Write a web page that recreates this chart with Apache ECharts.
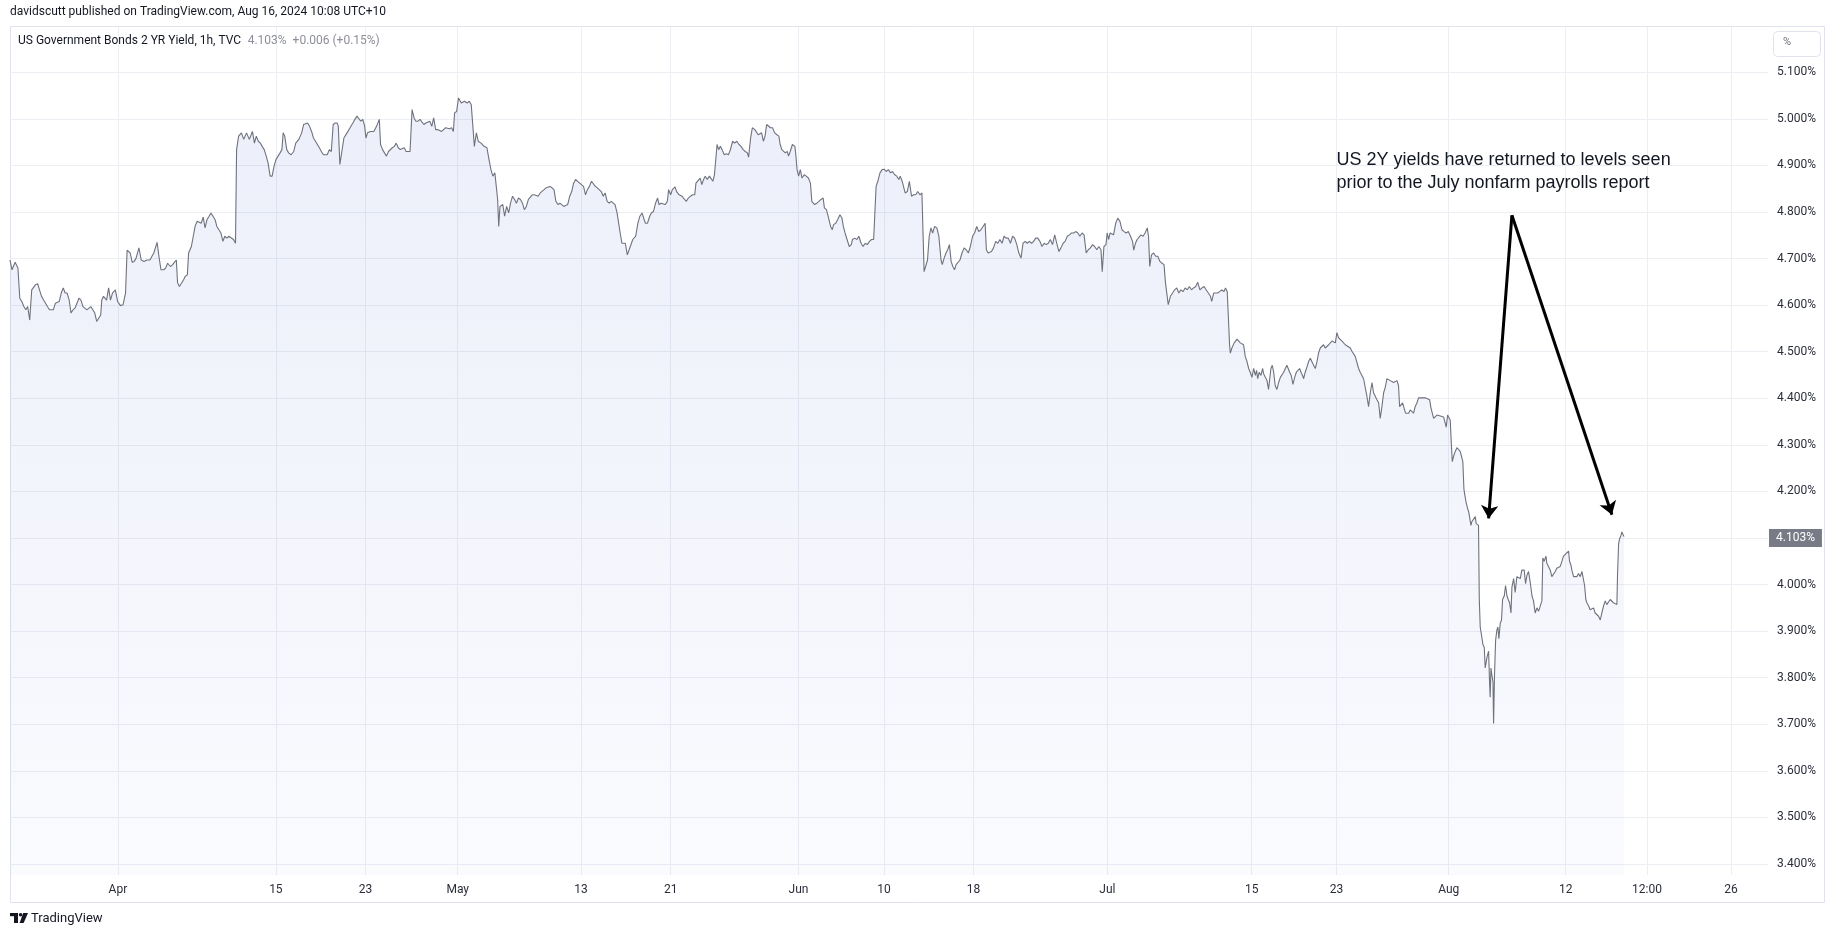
<!DOCTYPE html>
<html>
<head>
<meta charset="utf-8">
<script src="https://cdn.jsdelivr.net/npm/echarts@6/dist/echarts.min.js"></script>
<style>
html,body{margin:0;padding:0;background:#ffffff;}
#chart{width:1835px;height:939px;}
</style>
</head>
<body>
<div id="chart"></div>
<script>
// x = trading-day position (weekends skipped, as on the TradingView time scale), y = yield in %
const yieldPoints = [
[0,4.697],[0.13,4.676],[0.33,4.692],[0.51,4.680],[0.63,4.615],[0.76,4.608],[0.89,4.597],[1.02,4.590],[1.14,4.597],[1.27,4.568],[1.35,4.566],[1.40,4.633],[1.65,4.644],[1.78,4.646],[1.90,4.633],[2.03,4.619],[2.16,4.611],[2.29,4.604],[2.41,4.597],[2.54,4.590],[2.66,4.594],[2.79,4.590],[2.92,4.604],[3.17,4.608],[3.30,4.626],[3.43,4.637],[3.55,4.626],[3.68,4.626],[3.81,4.611],[3.93,4.583],[4.06,4.590],[4.19,4.594],[4.31,4.597],[4.44,4.615],[4.57,4.611],[4.70,4.597],[4.82,4.594],[4.95,4.590],[5.20,4.597],[5.46,4.583],[5.58,4.565],[5.71,4.572],[5.84,4.579],[5.91,4.611],[6.02,4.619],[6.22,4.611],[6.35,4.637],[6.47,4.611],[6.60,4.626],[6.78,4.633],[6.93,4.608],[7.11,4.599],[7.28,4.601],[7.44,4.626],[7.54,4.718],[7.74,4.712],[7.87,4.692],[8.00,4.694],[8.12,4.701],[8.30,4.723],[8.45,4.697],[8.63,4.694],[8.81,4.697],[9.01,4.697],[9.14,4.705],[9.26,4.712],[9.47,4.735],[9.59,4.705],[9.72,4.676],[9.90,4.676],[10.03,4.680],[10.15,4.690],[10.33,4.683],[10.48,4.687],[10.58,4.692],[10.71,4.697],[10.79,4.648],[10.91,4.640],[11.04,4.647],[11.17,4.654],[11.29,4.662],[11.42,4.665],[11.50,4.712],[11.68,4.726],[11.80,4.748],[11.93,4.771],[12.06,4.780],[12.18,4.784],[12.31,4.776],[12.44,4.789],[12.56,4.766],[12.69,4.784],[12.82,4.791],[12.94,4.798],[13.07,4.791],[13.20,4.784],[13.32,4.769],[13.45,4.762],[13.58,4.755],[13.71,4.737],[13.83,4.748],[13.96,4.744],[14.09,4.748],[14.39,4.741],[14.52,4.733],
[14.59,4.934],[14.72,4.963],[14.90,4.970],[15.05,4.956],[15.23,4.970],[15.41,4.956],[15.61,4.973],[15.74,4.948],[15.86,4.963],[15.99,4.952],[16.12,4.948],[16.24,4.941],[16.37,4.934],[16.50,4.920],[16.62,4.905],[16.75,4.877],[16.88,4.877],[17.00,4.898],[17.13,4.913],[17.26,4.920],[17.39,4.927],[17.51,4.934],[17.59,4.970],[17.69,4.963],[17.82,4.934],[17.94,4.927],[18.10,4.923],[18.27,4.930],[18.40,4.948],[18.60,4.956],[18.78,4.970],[18.91,4.988],[19.03,4.984],[19.16,4.991],[19.29,4.984],[19.42,4.973],[19.54,4.959],[19.67,4.952],[19.92,4.938],[20.05,4.930],[20.18,4.923],[20.30,4.920],[20.43,4.923],[20.56,4.934],[20.69,4.930],[20.81,4.988],[20.94,4.991],[21.07,4.991],[21.14,4.984],[21.24,4.902],[21.37,4.930],[21.50,4.959],[21.60,4.956],[21.70,4.970],[21.83,4.977],[21.95,4.984],[22.08,4.991],[22.21,4.999],[22.34,5.006],[22.46,5.002],[22.59,4.995],[22.72,4.999],[22.84,4.984],[22.92,4.959],[23.02,4.970],[23.22,4.973],[23.43,4.973],[23.60,4.984],[23.78,4.999],[23.86,4.945],[23.99,4.934],[24.11,4.938],[24.24,4.920],[24.37,4.930],[24.49,4.934],[24.62,4.938],[24.75,4.941],[24.87,4.948],[25.00,4.938],[25.13,4.934],[25.25,4.930],[25.38,4.938],[25.51,4.930],[25.63,4.927],[25.76,4.930],[25.89,5.020],[26.02,5.002],[26.14,4.995],[26.27,4.995],[26.40,4.999],[26.52,4.995],[26.65,4.988],[26.78,4.991],[26.90,4.988],[27.03,4.995],[27.16,4.984],[27.28,5.002],[27.41,4.977],[27.54,4.977],[27.66,4.981],[27.79,4.973],[27.92,4.977],[28.05,4.981],[28.17,4.977],[28.30,4.979],[28.43,4.981],[28.55,4.973],[28.63,5.013],[28.76,5.016],[28.88,5.045],[29.06,5.034],[29.26,5.038],[29.44,5.034],[29.57,5.038],[29.70,5.031],[29.82,5.027],[29.90,4.941],[30.03,4.970],[30.15,4.952],[30.33,4.948],[30.53,4.941],[30.71,4.938],[30.84,4.913],[30.97,4.891],[31.09,4.877],[31.22,4.884],[31.29,4.887],[31.40,4.827],[31.47,4.769],[31.55,4.812],[31.73,4.816],[31.85,4.791],[31.98,4.812],[32.11,4.798],[32.23,4.819],[32.36,4.834],[32.49,4.827],[32.61,4.819],[32.74,4.830],[32.87,4.827],[33.00,4.819],[33.12,4.805],[33.25,4.812],[33.38,4.827],[33.50,4.830],[33.63,4.837],[33.76,4.837],[33.88,4.841],[34.01,4.834],[34.14,4.841],[34.26,4.844],[34.39,4.848],[34.52,4.852],[34.77,4.855],[34.90,4.852],[35.03,4.848],[35.15,4.823],[35.28,4.816],[35.41,4.819],[35.53,4.816],[35.66,4.812],[35.91,4.816],[36.04,4.834],[36.17,4.844],[36.29,4.862],[36.42,4.870],[36.55,4.866],[36.68,4.862],[36.93,4.855],[37.06,4.837],[37.18,4.848],[37.31,4.855],[37.44,4.866],[37.56,4.870],[37.69,4.855],[37.82,4.852],[37.94,4.855],[38.07,4.844],[38.20,4.834],[38.32,4.841],[38.45,4.823],[38.58,4.819],[38.71,4.823],[38.83,4.819],[38.96,4.816],[39.09,4.798],
[39.21,4.798],[39.29,4.755],[39.40,4.733],[39.62,4.733],[39.75,4.708],[39.94,4.726],[40.10,4.741],[40.29,4.748],[40.43,4.776],[40.56,4.791],[40.70,4.798],[40.83,4.784],[40.92,4.776],[41.05,4.776],[41.19,4.791],[41.30,4.798],[41.43,4.801],[41.57,4.819],[41.70,4.830],[41.79,4.816],[41.92,4.819],[42.19,4.816],[42.33,4.823],[42.41,4.848],[42.54,4.837],[42.65,4.848],[42.82,4.854],[42.92,4.844],[43.09,4.837],[43.27,4.834],[43.41,4.828],[43.55,4.823],[43.68,4.830],[43.82,4.834],[43.95,4.837],[44.09,4.837],[44.17,4.862],[44.28,4.866],[44.44,4.873],[44.55,4.859],[44.66,4.870],[44.77,4.877],[44.90,4.870],[45.04,4.877],[45.15,4.880],[45.26,4.866],[45.36,4.880],[45.44,4.884],[45.53,4.945],[45.63,4.934],[45.74,4.941],[45.85,4.934],[45.99,4.923],[46.12,4.925],[46.26,4.923],[46.39,4.934],[46.53,4.952],[46.66,4.948],[46.80,4.952],[46.94,4.945],[47.07,4.941],[47.21,4.934],[47.34,4.930],[47.48,4.927],[47.56,4.918],[47.69,4.959],[47.80,4.981],[47.96,4.977],[48.07,4.978],[48.18,4.966],[48.29,4.963],[48.40,4.970],[48.51,4.952],[48.62,4.963],[48.72,4.988],[48.83,4.984],[48.97,4.981],[49.10,4.981],[49.24,4.970],[49.38,4.966],[49.51,4.963],[49.59,4.945],[49.70,4.934],[49.81,4.930],[49.92,4.927],[50.05,4.930],[50.13,4.920],[50.24,4.930],[50.38,4.945],[50.46,4.948],[50.54,4.941],[50.60,4.923],[50.68,4.891],[50.78,4.877],[50.89,4.891],[51.00,4.873],[51.14,4.880],[51.27,4.877],[51.41,4.873],[51.54,4.862],[51.63,4.823],[51.73,4.827],[51.81,4.816],[51.95,4.819],[52.09,4.823],[52.22,4.827],[52.36,4.830],[52.44,4.809],[52.57,4.805],[52.68,4.791],[52.84,4.769],[52.95,4.762],[53.03,4.773],[53.17,4.776],[53.30,4.784],[53.44,4.794],[53.57,4.787],[53.66,4.769],[53.77,4.755],[53.90,4.741],[54.04,4.726],[54.17,4.730],[54.25,4.741],[54.39,4.744],[54.53,4.741],[54.66,4.748],[54.80,4.733],[54.93,4.726],[55.07,4.733],[55.20,4.730],[55.34,4.737],[55.48,4.741],[55.61,4.741],[55.69,4.737],[55.77,4.855],[55.88,4.866],[56.02,4.884],[56.16,4.891],[56.29,4.892],[56.42,4.887],[56.56,4.891],[56.70,4.884],[56.83,4.887],[56.97,4.880],[57.10,4.877],[57.23,4.870],[57.32,4.877],[57.45,4.866],[57.56,4.870],[57.64,4.841],[57.78,4.844],[57.91,4.866],[58.05,4.834],[58.18,4.837],[58.32,4.837],[58.45,4.844],[58.59,4.837],[58.72,4.841],[58.81,4.837],
[58.86,4.672],[58.95,4.676],[59.08,4.697],[59.19,4.748],[59.30,4.766],[59.41,4.755],[59.54,4.769],[59.68,4.766],[59.81,4.748],[59.95,4.697],[60.03,4.687],[60.15,4.701],[60.27,4.712],[60.38,4.719],[60.49,4.730],[60.60,4.694],[60.71,4.683],[60.82,4.676],[60.92,4.687],[61.03,4.690],[61.17,4.697],[61.30,4.712],[61.44,4.723],[61.57,4.719],[61.71,4.712],[61.84,4.726],[61.98,4.748],[62.11,4.755],[62.25,4.769],[62.38,4.758],[62.52,4.762],[62.66,4.769],[62.79,4.776],[62.87,4.719],[62.98,4.712],[63.09,4.708],[63.20,4.715],[63.33,4.723],[63.47,4.737],[63.61,4.733],[63.74,4.741],[63.88,4.733],[64.01,4.748],[64.15,4.744],[64.28,4.744],[64.42,4.733],[64.56,4.748],[64.69,4.744],[64.83,4.730],[64.96,4.712],[65.10,4.701],[65.23,4.733],[65.37,4.737],[65.50,4.733],[65.64,4.737],[65.78,4.733],[65.91,4.737],[66.05,4.744],[66.18,4.744],[66.32,4.737],[66.45,4.726],[66.59,4.733],[66.72,4.730],[66.86,4.733],[66.99,4.741],[67.13,4.730],[67.27,4.751],[67.40,4.733],[67.54,4.715],[67.67,4.723],[67.81,4.733],[67.94,4.737],[68.08,4.748],[68.22,4.751],[68.35,4.755],[68.49,4.755],[68.62,4.758],[68.76,4.755],[68.89,4.748],[69.03,4.755],[69.16,4.751],[69.30,4.712],[69.43,4.719],[69.57,4.723],[69.71,4.730],[69.84,4.726],[69.98,4.719],[70.11,4.726],[70.25,4.719],[70.33,4.672],[70.44,4.726],[70.57,4.730],[70.65,4.755],[70.74,4.741],[70.84,4.755],[70.95,4.758],[71.06,4.751],[71.20,4.776],[71.33,4.787],[71.47,4.780],[71.60,4.762],[71.74,4.758],[71.87,4.755],[72.01,4.758],[72.15,4.748],[72.28,4.737],[72.36,4.718],[72.47,4.733],[72.58,4.741],[72.69,4.744],[72.82,4.751],[72.96,4.748],[73.09,4.755],[73.23,4.766],[73.31,4.748],[73.39,4.683],[73.50,4.708],[73.64,4.712],[73.77,4.705],[73.91,4.705],[74.04,4.694],[74.18,4.690],[74.31,4.687],[74.40,4.649],[74.50,4.622],[74.58,4.601],[74.72,4.619],[74.86,4.626],[74.99,4.633],[75.13,4.637],[75.26,4.626],[75.40,4.633],[75.53,4.629],[75.67,4.637],[75.81,4.633],[75.94,4.640],[76.08,4.633],[76.21,4.637],[76.35,4.640],[76.48,4.649],[76.62,4.633],[76.75,4.637],[76.89,4.640],[77.02,4.633],[77.16,4.626],[77.30,4.619],[77.38,4.608],[77.51,4.626],[77.62,4.629],[77.76,4.626],[77.89,4.629],[78.03,4.633],[78.16,4.629],[78.27,4.637],[78.38,4.629],[78.46,4.626],
[78.53,4.515],[78.58,4.497],[78.68,4.508],[78.83,4.519],[79.01,4.527],[79.12,4.524],[79.22,4.519],[79.33,4.523],[79.43,4.515],[79.54,4.490],[79.65,4.479],[79.76,4.464],[79.86,4.456],[79.97,4.445],[80.08,4.464],[80.19,4.449],[80.27,4.460],[80.34,4.442],[80.44,4.456],[80.55,4.449],[80.66,4.464],[80.72,4.453],[80.83,4.445],[80.94,4.438],[81.04,4.419],[81.11,4.423],[81.19,4.464],[81.28,4.471],[81.37,4.456],[81.47,4.427],[81.58,4.419],[81.69,4.434],[81.80,4.445],[81.90,4.442],[82.01,4.456],[82.12,4.460],[82.22,4.471],[82.29,4.471],[82.40,4.456],[82.50,4.449],[82.61,4.430],[82.72,4.445],[82.83,4.456],[82.93,4.460],[83.04,4.464],[83.13,4.456],[83.23,4.449],[83.30,4.442],[83.40,4.456],[83.51,4.467],[83.62,4.479],[83.73,4.486],[83.83,4.490],[83.94,4.471],[84.05,4.464],[84.16,4.479],[84.26,4.497],[84.37,4.508],[84.48,4.512],[84.58,4.515],[84.69,4.508],[84.80,4.512],[84.91,4.515],[85.02,4.512],[85.12,4.523],[85.23,4.527],[85.34,4.519],[85.44,4.541],[85.55,4.530],[85.66,4.527],[85.77,4.523],[85.87,4.519],[85.98,4.515],[86.09,4.512],[86.30,4.508],[86.41,4.501],[86.52,4.497],[86.62,4.490],[86.73,4.493],[86.84,4.464],[86.94,4.456],[87.05,4.453],[87.16,4.442],[87.27,4.445],[87.37,4.405],[87.48,4.382],[87.59,4.412],[87.70,4.434],[87.80,4.412],[87.91,4.408],[88.02,4.397],[88.13,4.390],[88.23,4.357],[88.34,4.382],[88.45,4.412],[88.55,4.423],[88.66,4.442],[88.77,4.442],[88.88,4.438],[88.98,4.438],[89.09,4.434],[89.20,4.438],[89.31,4.438],[89.41,4.427],[89.48,4.382],[89.56,4.386],[89.67,4.390],[89.77,4.390],[89.86,4.368],[89.95,4.364],[90.06,4.368],[90.16,4.375],[90.27,4.379],[90.38,4.368],[90.48,4.382],[90.59,4.390],[90.70,4.401],[90.81,4.405],[90.91,4.401],[91.02,4.405],[91.13,4.401],[91.24,4.405],[91.41,4.397],[91.50,4.379],[91.58,4.375],[91.67,4.357],[91.77,4.360],[91.88,4.364],[91.99,4.360],[92.10,4.362],[92.20,4.364],[92.31,4.360],[92.42,4.357],[92.48,4.338],[92.57,4.364],[92.67,4.368],[92.74,4.353],[92.80,4.308],[92.87,4.264],[92.95,4.275],[93.06,4.286],[93.17,4.294],[93.28,4.297],[93.38,4.286],[93.49,4.290],[93.55,4.264],[93.62,4.205],[93.69,4.190],[93.77,4.175],[93.85,4.164],[93.92,4.157],[93.98,4.146],[94.07,4.127],[94.13,4.135],[94.24,4.138],[94.35,4.146],[94.41,4.131],[94.48,4.127],[94.56,4.127],
[94.61,3.968],[94.67,3.909],[94.78,3.906],[94.84,3.872],[94.93,3.865],[94.99,3.821],[95.10,3.843],[95.21,3.857],[95.27,3.791],[95.31,3.758],[95.36,3.821],[95.42,3.806],[95.49,3.791],[95.53,3.702],[95.59,3.806],[95.66,3.880],[95.74,3.902],[95.81,3.909],[95.87,3.884],[95.96,3.917],[96.04,3.924],[96.11,3.968],[96.22,3.976],[96.30,3.998],[96.39,3.976],[96.47,3.968],[96.56,3.961],[96.65,3.939],[96.71,3.994],[96.82,4.013],[96.92,3.983],[97.03,4.017],[97.14,4.020],[97.25,4.013],[97.35,4.031],[97.41,4.028],[97.50,4.031],[97.59,4.002],[97.68,4.020],[97.78,4.028],[97.89,4.005],[98.00,3.976],[98.10,3.965],[98.21,3.939],[98.32,3.950],[98.43,3.943],[98.53,3.939],[98.64,3.965],[98.70,4.057],[98.79,4.050],[98.90,4.061],[98.96,4.046],[99.07,4.046],[99.18,4.031],[99.28,4.017],[99.39,4.013],[99.50,4.028],[99.60,4.035],[99.71,4.031],[99.82,4.039],[99.93,4.050],[100.03,4.061],[100.14,4.065],[100.36,4.072],[100.42,4.050],[100.51,4.042],[100.57,4.031],[100.68,4.017],[100.79,4.020],[100.89,4.017],[101.00,4.024],[101.11,4.017],[101.22,4.028],[101.32,4.024],[101.39,3.998],[101.47,3.968],[101.54,3.961],[101.65,3.954],[101.75,3.946],[101.86,3.943],[101.97,3.950],[102.07,3.939],[102.18,3.943],[102.29,3.932],[102.40,3.924],[102.50,3.939],[102.61,3.954],[102.72,3.965],[102.82,3.957],[102.93,3.961],[103.04,3.968],[103.15,3.965],[103.25,3.961],[103.36,3.965],[103.47,3.957],[103.51,4.020],[103.58,4.087],[103.64,4.098],[103.73,4.105],[103.79,4.113],[103.86,4.109],[103.93,4.103]
];

const xTickDays = [6.95, 17.12, 22.89, 28.83, 36.76, 42.54, 50.77, 56.27, 62.04, 70.66, 79.95, 85.42, 92.64, 100.17, 105.41, 110.82];
const xTickLabels = ['Apr', '15', '23', 'May', '13', '21', 'Jun', '10', '18', 'Jul', '15', '23', 'Aug', '12', '12:00', '26'];
const yTicks = [3.4, 3.5, 3.6, 3.7, 3.8, 3.9, 4.0, 4.1, 4.2, 4.3, 4.4, 4.5, 4.6, 4.7, 4.8, 4.9, 5.0, 5.1];
const xRange = [0, 113.2];
const yRange = [3.3764, 5.1973];

const lastValue = 4.103;
const lastChange = '+0.006 (+0.15%)';
const headerText = 'davidscutt published on TradingView.com, Aug 16, 2024 10:08 UTC+10';
const legendTitle = 'US Government Bonds 2 YR Yield, 1h, TVC';
const annotationText = 'US 2Y yields have returned to levels seen\nprior to the July nonfarm payrolls report';
const annotationAnchor = [85.38, 4.886];
const arrowStart = [96.71, 4.793];
const arrowTips = [[95.21, 4.142], [103.15, 4.150]];

const UI_FONT = 'Roboto, "Noto Sans", sans-serif';
const chart = echarts.init(document.getElementById('chart'), null, { renderer: 'canvas' });

chart.setOption({
  animation: false,
  backgroundColor: '#ffffff',
  grid: { left: 10, right: 67, top: 27, bottom: 64, containLabel: false },
  xAxis: {
    type: 'value',
    min: xRange[0],
    max: xRange[1],
    axisLine: { show: false },
    axisTick: { show: false, customValues: xTickDays },
    splitLine: { show: true, lineStyle: { color: '#eceef3', width: 1 } },
    axisLabel: {
      customValues: xTickDays,
      hideOverlap: false,
      margin: 9,
      color: '#2a2e39',
      fontFamily: UI_FONT,
      fontSize: 12,
      formatter: function (v) {
        let best = 0, bd = Infinity;
        xTickDays.forEach(function (d, i) { const dd = Math.abs(d - v); if (dd < bd) { bd = dd; best = i; } });
        return xTickLabels[best];
      }
    }
  },
  yAxis: {
    type: 'value',
    position: 'right',
    min: yRange[0],
    max: yRange[1],
    axisLine: { show: false },
    axisTick: { show: false, customValues: yTicks },
    splitLine: { show: true, lineStyle: { color: '#eceef3', width: 1 } },
    axisLabel: {
      customValues: yTicks,
      hideOverlap: false,
      margin: 9,
      color: '#2a2e39',
      fontFamily: UI_FONT,
      fontSize: 12,
      formatter: function (v) { return v.toFixed(3) + '%'; }
    }
  },
  series: [
    {
      type: 'line',
      data: yieldPoints,
      showSymbol: false,
      symbol: 'none',
      smooth: false,
      sampling: 'none',
      silent: true,
      lineStyle: { color: '#6f727d', width: 1.1 },
      areaStyle: {
        origin: 'start',
        color: new echarts.graphic.LinearGradient(0, 0, 0, 1, [
          { offset: 0, color: 'rgba(41, 70, 200, 0.125)' },
          { offset: 1, color: 'rgba(41, 70, 200, 0.03)' }
        ])
      },
      markLine: {
        silent: true,
        animation: false,
        symbol: ['none', 'arrow'],
        symbolSize: 13,
        data: [
          [
            { coord: arrowStart, symbol: 'none', lineStyle: { color: '#000000', width: 3, type: 'solid' }, label: { show: false } },
            { coord: arrowTips[0], symbol: 'arrow' }
          ],
          [
            { coord: arrowStart, symbol: 'none', lineStyle: { color: '#000000', width: 3, type: 'solid' }, label: { show: false } },
            { coord: arrowTips[1], symbol: 'arrow' }
          ],
          {
            yAxis: lastValue,
            symbol: 'none',
            lineStyle: { color: 'rgba(0,0,0,0)', width: 0 },
            label: {
              show: true,
              position: 'end',
              distance: 1,
              formatter: lastValue.toFixed(3) + '%',
              color: '#ffffff',
              backgroundColor: '#787b86',
              padding: [3, 7, 3, 7],
              fontFamily: UI_FONT,
              fontSize: 12
            }
          }
        ]
      },
      markPoint: {
        silent: true,
        animation: false,
        data: [{
          coord: annotationAnchor,
          symbol: 'circle',
          symbolSize: 1,
          itemStyle: { color: 'rgba(0,0,0,0)' },
          label: {
            show: true,
            position: 'right',
            distance: 0,
            formatter: annotationText,
            color: '#131722',
            fontFamily: '"Liberation Sans", Arial, sans-serif',
            fontSize: 18,
            lineHeight: 23,
            align: 'left'
          }
        }]
      }
    }
  ],
  graphic: [
    {
      type: 'text', left: 10, top: 6, silent: true,
      style: { text: headerText, fill: '#131722', font: '12px ' + UI_FONT }
    },
    {
      type: 'rect', silent: true, z: -1,
      shape: { x: 10.5, y: 26.5, width: 1814, height: 876 },
      style: { fill: 'none', stroke: '#e0e3eb', lineWidth: 1 }
    },
    {
      type: 'text', left: 18, top: 35, silent: true, z: 10,
      style: {
        text: '{a|' + legendTitle + '}  {b|' + lastValue.toFixed(3) + '%  ' + lastChange + '}',
        rich: {
          a: { fill: '#131722', font: '12px ' + UI_FONT },
          b: { fill: '#8c8f99', font: '12px ' + UI_FONT }
        }
      }
    },
    {
      type: 'rect', silent: true,
      shape: { x: 1773.5, y: 31.5, width: 47, height: 25, r: 4 },
      style: { fill: '#ffffff', stroke: '#e0e3eb', lineWidth: 1 }
    },
    {
      type: 'text', left: 1783, top: 37, silent: true,
      style: { text: '%', fill: '#6a6d78', font: '11px ' + UI_FONT }
    },
    {
      type: 'group', left: 10, top: 913, silent: true,
      children: [
        { type: 'rect', shape: { x: 0, y: 0, width: 8, height: 3.2 }, style: { fill: '#131722' } },
        { type: 'rect', shape: { x: 4, y: 0, width: 4, height: 10 }, style: { fill: '#131722' } },
        { type: 'circle', shape: { cx: 10.6, cy: 1.8, r: 1.8 }, style: { fill: '#131722' } },
        { type: 'polygon', shape: { points: [[13.2, 0], [18, 0], [13.6, 10], [9.6, 10]] }, style: { fill: '#131722' } }
      ]
    },
    {
      type: 'text', left: 31, top: 912, silent: true,
      style: { text: 'TradingView', fill: '#131722', font: '13px ' + UI_FONT }
    }
  ]
});
</script>
</body>
</html>
